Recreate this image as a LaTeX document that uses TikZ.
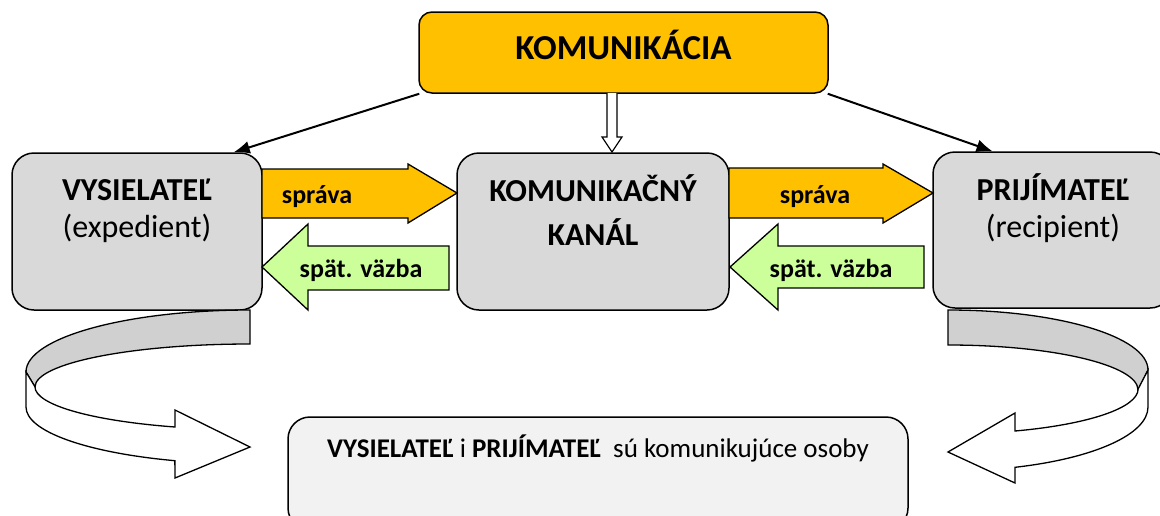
\documentclass[tikz,border=0pt]{standalone}
\usepackage{fontspec}
\setmainfont{Carlito}
\usetikzlibrary{arrows.meta}
\definecolor{orangeF}{HTML}{FFC000}
\definecolor{grayF}{HTML}{D9D9D9}
\definecolor{greenF}{HTML}{CCFF99}
\definecolor{lightF}{HTML}{F2F2F2}
\definecolor{bandF}{HTML}{D0D0D0}
\tikzset{
  box/.style={draw=black, line width=1.5pt, rounded corners=22pt, inner sep=0pt},
  titletext/.style={anchor=base, inner sep=0pt, font=\fontsize{32}{36}\selectfont\bfseries},
  subtext/.style={anchor=base, inner sep=0pt, font=\fontsize{32}{36}\selectfont},
  arrtext/.style={anchor=base, inner sep=0pt, font=\fontsize{26}{30}\selectfont\bfseries},
  blockarrow/.style={draw=black, line width=1.3pt, line join=miter},
  link/.style={line width=2pt, -{Latex[length=16pt,width=13pt]}},
  band/.style={draw=black, line width=1.3pt},
}
\begin{document}
\begin{tikzpicture}[x=1pt,y=-1pt]
\clip (0,0) rectangle (1160,515);
\fill[white] (0,0) rectangle (1160,515);

% boxes
\node[box, fill=orangeF, rounded corners=13pt, minimum width=409pt, minimum height=81pt] (kom) at (623.5,52.5) {};
\node[box, fill=grayF, minimum width=250pt, minimum height=157pt] (vys) at (137,231.5) {};
\node[box, fill=grayF, minimum width=272pt, minimum height=157pt] (kan) at (593,231.5) {};
\node[box, fill=grayF, minimum width=239pt, minimum height=156pt] (pri) at (1052.5,230) {};
\node[box, fill=lightF, minimum width=620pt, minimum height=113pt] (osoby) at (598,473.5) {};

% texts
\node[anchor=base, inner sep=0pt, font=\fontsize{35}{40}\selectfont\bfseries] (komt) at (623.5,59) {KOMUNIKÁCIA};
\node[titletext] (vyst) at (137,200) {VYSIELATEĽ};
\node[subtext] (vyss) at (137,237) {(expedient)};
\node[titletext] (kant1) at (593,201) {KOMUNIKAČNÝ};
\node[titletext] (kant2) at (593,245) {KANÁL};
\node[titletext] (prit) at (1053,200) {PRIJÍMATEĽ};
\node[subtext] (pris) at (1053,237) {(recipient)};
\node[anchor=base, inner sep=0pt, font=\fontsize{27}{32}\selectfont] (osobyt) at (598,457) {\textbf{VYSIELATEĽ} i \textbf{PRIJÍMATEĽ}\ \ sú komunikujúce osoby};

% thin connectors
\draw[link] ([xshift=1pt]kom.south west) -- ([xshift=-29pt]vys.north east);
\draw[link] ([xshift=-1pt]kom.south east) -- ([xshift=-60pt]pri.north);

% hollow down arrow
\draw[blockarrow, fill=white, line width=1.2pt] (607,93) -- (607,137) -- (602,137) -- (612,152) -- (622,137) -- (617,137) -- (617,93);

% block arrows
\draw[blockarrow, fill=orangeF] (262,169) -- (408,169) -- (408,164) -- (457,193) -- (408,223) -- (408,218) -- (262,218) -- cycle;
\draw[blockarrow, fill=orangeF] (729,168) -- (883,168) -- (883,164) -- (933,193) -- (883,223) -- (883,218) -- (729,218) -- cycle;
\draw[blockarrow, fill=greenF] (262,267) -- (308,224) -- (308,246) -- (449,246) -- (449,290) -- (308,290) -- (308,310) -- cycle;
\draw[blockarrow, fill=greenF] (730,267) -- (778,224) -- (778,246) -- (924,246) -- (924,288) -- (778,288) -- (778,310) -- cycle;

\node[arrtext] (spr1) at (317,203) {správa};
\node[arrtext] (spr2) at (815,203) {správa};
\node[arrtext] (spv1) at (361,277) {spät. väzba};
\node[arrtext] (spv2) at (831,277) {spät. väzba};

% curved arrow left
\draw[band, fill=bandF] (250,310) arc[start angle=270, end angle=180, x radius=224, y radius=62] -- (35,387) arc[start angle=180, end angle=270, x radius=215, y radius=43] -- cycle;
\draw[band, fill=white] (26,372) -- (26,407) arc[start angle=180, end angle=109.6, x radius=224, y radius=57] -- (175,478) -- (250,447) -- (175,410) -- (175,427) arc[start angle=110.4, end angle=180, x radius=215, y radius=43] -- cycle;

% curved arrow right
\draw[band, fill=bandF] (948,310) arc[start angle=270, end angle=360, x radius=200, y radius=60] -- (1138,390) arc[start angle=0, end angle=-90, x radius=190, y radius=45] -- cycle;
\draw[band, fill=white] (1148,370) -- (1148,407) arc[start angle=0, end angle=70.4, x radius=200, y radius=64] -- (1015,483) -- (948,452) -- (1015,413) -- (1015,431) arc[start angle=69.4, end angle=0, x radius=190, y radius=45] -- cycle;
\end{tikzpicture}
\end{document}
